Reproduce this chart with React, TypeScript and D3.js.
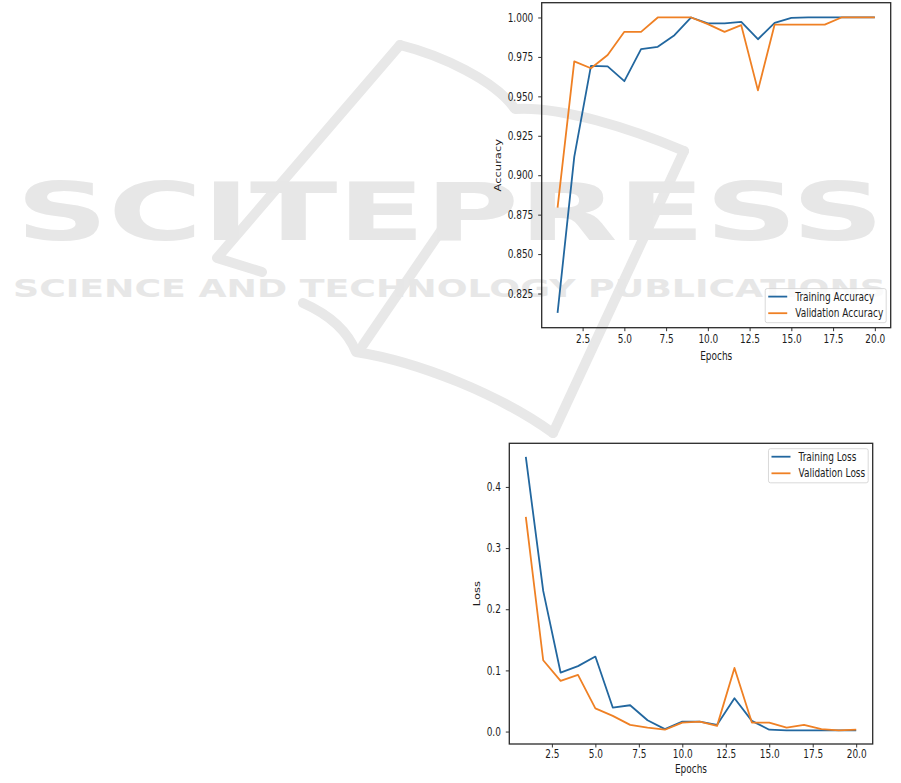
import React, { useEffect, useRef } from 'react'
import * as d3 from 'd3'

// epochs on the x axis
const epochs = [1, 2, 3, 4, 5, 6, 7, 8, 9, 10, 11, 12, 13, 14, 15, 16, 17, 18, 19, 20]

const trainAcc = [0.8127, 0.9116, 0.9693, 0.969, 0.9596, 0.9799, 0.9814, 0.9888, 1.0, 0.9962,
  0.9962, 0.9972, 0.9862, 0.9966, 0.9998, 1.0, 1.0, 1.0, 1.0, 1.0]
const valAcc = [0.8795, 0.9722, 0.9678, 0.9762, 0.9909, 0.9909, 1.0, 1.0, 1.0, 0.9958,
  0.9909, 0.9951, 0.9538, 0.9955, 0.9955, 0.9955, 0.9955, 1.0, 1.0, 1.0]

const trainLoss = [0.449, 0.23, 0.0965, 0.107, 0.1226, 0.0392, 0.043, 0.0185, 0.004, 0.0163,
  0.0163, 0.011, 0.0545, 0.0174, 0.003, 0.002, 0.002, 0.002, 0.002, 0.002]
const valLoss = [0.351, 0.1166, 0.0828, 0.0926, 0.038, 0.0256, 0.011, 0.0065, 0.003, 0.0147,
  0.0163, 0.0093, 0.104, 0.0147, 0.0147, 0.0065, 0.011, 0.004, 0.002, 0.003]

const epochTicks = [2.5, 5, 7.5, 10, 12.5, 15, 17.5, 20]
const accTicks = [0.825, 0.85, 0.875, 0.9, 0.925, 0.95, 0.975, 1.0]
const lossTicks = [0, 0.1, 0.2, 0.3, 0.4]

const watermarkTitle = 'SCITEPRESS'
const watermarkSub = 'SCIENCE AND TECHNOLOGY PUBLICATIONS'

const BLUE = '#22679f'
const ORANGE = '#ef8024'
const INK = '#1c1c1c'
const FONT = 'DejaVu Sans, sans-serif'
const FS = 11.5
const SX = 0.78 // the figure is squeezed horizontally

interface Series { name: string; values: number[]; color: string }
interface Panel {
  left: number; right: number; top: number; bottom: number
  series: Series[]
  yTicks: number[]; yFmt: string; ylabel: string; ylabelX: number
  xTickGap: number; xlabelGap: number
  legend: 'lower right' | 'upper right'
}

// matplotlib style 5% margins
const padded = (v: number[]): [number, number] => {
  const [a, b] = d3.extent(v) as [number, number]
  const m = (b - a) * 0.05
  return [a - m, b + m]
}

function drawPanel(svg: d3.Selection<SVGSVGElement, unknown, null, undefined>, p: Panel) {
  const x = d3.scaleLinear().domain(padded(epochs)).range([p.left, p.right])
  const y = d3.scaleLinear().domain(padded(p.series.flatMap(s => s.values))).range([p.bottom, p.top])
  const g = svg.append('g')

  const line = d3.line<number>().x((_, i) => x(epochs[i])).y(d => y(d))
  p.series.forEach(s => {
    g.append('path')
      .attr('d', line(s.values))
      .attr('fill', 'none')
      .attr('stroke', s.color)
      .attr('stroke-width', 1.8)
      .attr('stroke-linejoin', 'round')
  })

  const yAxis = g.append('g')
    .attr('transform', `translate(${p.left},0)`)
    .call(d3.axisLeft(y).tickValues(p.yTicks).tickFormat(d3.format(p.yFmt) as any).tickSize(3.5))
  const xAxis = g.append('g')
    .attr('transform', `translate(0,${p.bottom})`)
    .call(d3.axisBottom(x).tickValues(epochTicks).tickFormat(d3.format('.1f') as any).tickSize(3.5))

  ;[yAxis, xAxis].forEach(a => {
    a.select('.domain').remove()
    a.attr('font-family', FONT).attr('font-size', FS)
    a.selectAll('line').attr('stroke', INK).attr('stroke-width', 0.9)
    a.selectAll('text').attr('fill', INK)
  })
  yAxis.selectAll('text').attr('x', -8.4 / SX).attr('transform', `scale(${SX},1)`)
  xAxis.selectAll('text').attr('y', p.xTickGap).attr('transform', `scale(${SX},1)`)

  g.append('rect')
    .attr('x', p.left).attr('y', p.top)
    .attr('width', p.right - p.left).attr('height', p.bottom - p.top)
    .attr('fill', 'none').attr('stroke', '#2a2a2a').attr('stroke-width', 1.3)

  g.append('text')
    .attr('transform', `translate(${(p.left + p.right) / 2},${p.bottom + p.xlabelGap}) scale(${SX},1)`)
    .attr('text-anchor', 'middle').attr('dy', '0.35em')
    .attr('font-family', FONT).attr('font-size', FS).attr('fill', INK)
    .text('Epochs')

  g.append('text')
    .attr('transform', `translate(${p.ylabelX},${(p.top + p.bottom) / 2}) rotate(-90) scale(1,${SX})`)
    .attr('text-anchor', 'middle').attr('dy', '0.35em')
    .attr('font-family', FONT).attr('font-size', FS).attr('fill', INK)
    .text(p.ylabel)

  // legend
  const lg = g.append('g')
  const box = lg.append('rect')
  const rowH = 16.6
  const labels = p.series.map((s, i) => {
    lg.append('line')
      .attr('x1', 3).attr('x2', 22)
      .attr('y1', 8 + i * rowH).attr('y2', 8 + i * rowH)
      .attr('stroke', s.color).attr('stroke-width', 1.8)
    return lg.append('text')
      .attr('transform', `translate(30,${8 + i * rowH}) scale(${SX},1)`)
      .attr('dy', '0.35em')
      .attr('font-family', FONT).attr('font-size', FS).attr('fill', INK)
      .text(s.name)
  })
  const tw = d3.max(labels, t => (t.node() as SVGTextElement).getComputedTextLength() * SX) ?? 80
  const bw = 30 + tw + 3
  const bh = 8 + rowH * (p.series.length - 1) + 9.5
  box.attr('width', bw).attr('height', bh).attr('rx', 2)
    .attr('fill', 'white').attr('fill-opacity', 0.8)
    .attr('stroke', '#cfcfcf').attr('stroke-width', 0.8)
  const lx = p.right - 4.5 - bw
  const ly = p.legend === 'lower right' ? p.bottom - 5 - bh : p.top + 5.4
  lg.attr('transform', `translate(${lx},${ly})`)
}

function drawWatermark(svg: d3.Selection<SVGSVGElement, unknown, null, undefined>) {
  const wm = svg.append('g').attr('fill', 'none').attr('stroke', '#e8e8e8')
    .attr('stroke-width', 10).attr('stroke-linecap', 'round').attr('stroke-linejoin', 'round')
  const strokes = [
    'M262,272 L217,258 L400,45',
    'M400,45 C440,55 495,80 515,109 C560,106 630,128 684,151',
    'M684,151 L553,433',
    'M303,303 C330,315 348,332 356,352 C420,362 500,395 553,433',
    'M363,345 L447,222',
  ]
  strokes.forEach(d => wm.append('path').attr('d', d))
  svg.append('text')
    .attr('x', 16).attr('y', 240)
    .attr('textLength', 868).attr('lengthAdjust', 'spacingAndGlyphs')
    .attr('font-family', FONT).attr('font-weight', 'bold').attr('font-size', 80)
    .attr('fill', '#e7e7e7')
    .text(watermarkTitle)
  svg.append('text')
    .attr('x', 13).attr('y', 297)
    .attr('textLength', 873).attr('lengthAdjust', 'spacingAndGlyphs')
    .attr('font-family', FONT).attr('font-weight', 'bold').attr('font-size', 24)
    .attr('fill', '#e7e7e7')
    .text(watermarkSub)
}

export default function App() {
  const svgRef = useRef<SVGSVGElement>(null)

  useEffect(() => {
    if (!svgRef.current) return
    const svg = d3.select(svgRef.current)
    svg.selectAll('*').remove()

    svg.append('rect').attr('width', 901).attr('height', 783).attr('fill', 'white')
    drawWatermark(svg)

    drawPanel(svg, {
      left: 541.7, right: 890.7, top: 2.7, bottom: 327.7,
      series: [
        { name: 'Training Accuracy', values: trainAcc, color: BLUE },
        { name: 'Validation Accuracy', values: valAcc, color: ORANGE },
      ],
      yTicks: accTicks, yFmt: '.3f', ylabel: 'Accuracy', ylabelX: 498.3,
      xTickGap: 7.5, xlabelGap: 28,
      legend: 'lower right',
    })

    drawPanel(svg, {
      left: 509.3, right: 872.7, top: 443.3, bottom: 744,
      series: [
        { name: 'Training Loss', values: trainLoss, color: BLUE },
        { name: 'Validation Loss', values: valLoss, color: ORANGE },
      ],
      yTicks: lossTicks, yFmt: '.1f', ylabel: 'Loss', ylabelX: 477.3,
      xTickGap: 6, xlabelGap: 25.3,
      legend: 'upper right',
    })
  }, [])

  return (
    <svg ref={svgRef} width={901} height={783}
      style={{ position: 'absolute', left: 0, top: 0, display: 'block' }} />
  )
}
